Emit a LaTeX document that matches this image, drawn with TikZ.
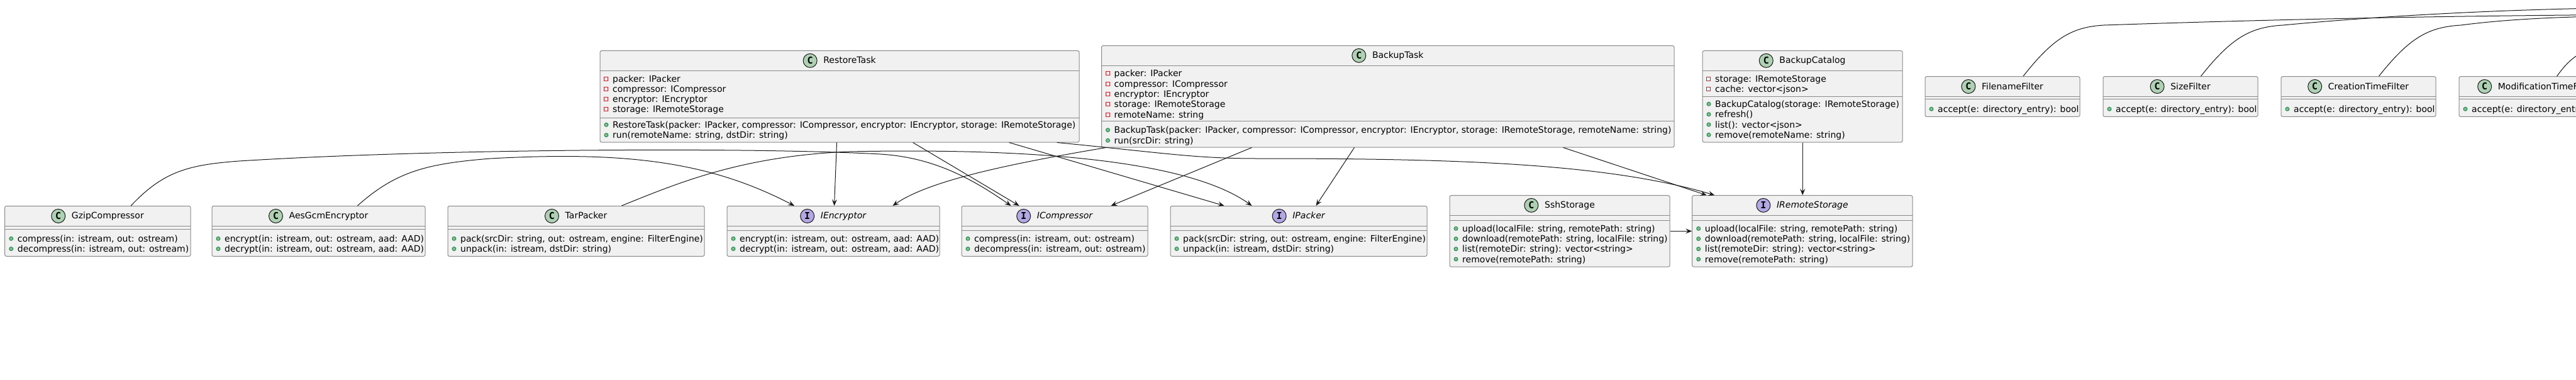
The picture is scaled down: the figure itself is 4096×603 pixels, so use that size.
\documentclass[tikz,border=0pt]{standalone}
\usepackage{fontspec}
\setmainfont{DejaVu Sans}
\newfontfamily\iconfont{DejaVu Sans Mono}
\usetikzlibrary{arrows.meta,calc,fit}
\definecolor{boxfill}{HTML}{F1F1F1}
\definecolor{boxdraw}{HTML}{8A8A8A}
\definecolor{linecol}{HTML}{181818}
\definecolor{privcol}{HTML}{C82930}
\definecolor{pubfill}{HTML}{84BE84}
\definecolor{pubdraw}{HTML}{038048}
\definecolor{clsfill}{HTML}{ADD1B2}
\definecolor{ifcfill}{HTML}{B4A7E5}
\tikzset{
  umlbox/.style={draw=boxdraw, fill=boxfill, line width=1pt, rounded corners=2.5pt, inner sep=0pt},
  divider/.style={draw=boxdraw, line width=1pt},
  rowtext/.style={anchor=base west, inner sep=0pt, font=\fontsize{14}{16}\selectfont, text=black},
  titletext/.style={anchor=base, inner sep=0pt, font=\fontsize{14}{16}\selectfont, text=black},
  ifctitle/.style={anchor=base, inner sep=0pt, font=\fontsize{14}{16}\selectfont\itshape, text=black},
  clsicon/.style={circle, draw=linecol, fill=clsfill, line width=1pt, minimum size=22pt, inner sep=0pt, font=\iconfont\bfseries\fontsize{15}{15}\selectfont},
  ifcicon/.style={clsicon, fill=ifcfill},
  privicon/.style={draw=privcol, line width=1pt},
  pubicon/.style={fill=pubfill, draw=pubdraw, line width=0.8pt},
  conn/.style={draw=linecol, line width=1pt, -{Stealth[length=10pt,width=8pt,inset=4pt]}},
}
\newcommand\umlframe[5]{\node[umlbox, fit={(#2,#3) (#4,#5)}] (#1) {};}
\newcommand\clshead[6]{%
  \node[titletext] (#1-t) at ({(#2+#3)/2+16},{(#4+#5)/2+4.5}) {#6};
  \node[clsicon] (#1-i) at ($(#1-t.base west)+(-21,-4.5)$) {C};
  \draw[divider] (#2,#5) -- (#3,#5);}
\newcommand\ifchead[6]{%
  \node[ifctitle] (#1-t) at ({(#2+#3)/2+16},{(#4+#5)/2+4.5}) {#6};
  \node[ifcicon] (#1-i) at ($(#1-t.base west)+(-21,-4.5)$) {I};
  \draw[divider] (#2,#5) -- (#3,#5);}
\newcommand\sep[3]{\draw[divider] (#1,#3) -- (#2,#3);}
\newcommand\priv[3]{\draw[privicon] ({#1+6.5},{#2-3}) rectangle ({#1+12.5},{#2+3}); \node[rowtext] at ({#1+20},{#2+5}) {#3};}
\newcommand\pub[3]{\filldraw[pubicon] ({#1+10},{#2}) circle (3pt); \node[rowtext] at ({#1+20},{#2+5}) {#3};}

\begin{document}
\begin{tikzpicture}[x=1pt,y=-1pt]
\useasboundingbox (0,0) rectangle (4096,603);
\fill[white] (0,0) rectangle (4096,603);
\clip (0,0) rectangle (4096,603);

% ---------- RestoreTask
\umlframe{restore}{954}{80.7}{1716}{226}
\clshead{restore}{954}{1716}{80.7}{112}{RestoreTask}
\priv{954}{125.3}{packer: IPacker}
\priv{954}{141.5}{compressor: ICompressor}
\priv{954}{157.7}{encryptor: IEncryptor}
\priv{954}{173.9}{storage: IRemoteStorage}
\sep{954}{1716}{187}
\pub{954}{198.3}{RestoreTask(packer: IPacker, compressor: ICompressor, encryptor: IEncryptor, storage: IRemoteStorage)}
\pub{954}{214.7}{run(remoteName: string, dstDir: string)}

% ---------- BackupTask
\umlframe{backup}{1751.5}{72.7}{2662}{234}
\clshead{backup}{1751.5}{2662}{72.7}{104}{BackupTask}
\priv{1751.5}{116.7}{packer: IPacker}
\priv{1751.5}{133}{compressor: ICompressor}
\priv{1751.5}{149.3}{encryptor: IEncryptor}
\priv{1751.5}{165.7}{storage: IRemoteStorage}
\priv{1751.5}{182}{remoteName: string}
\sep{1751.5}{2662}{192.7}
\pub{1751.5}{206.7}{BackupTask(packer: IPacker, compressor: ICompressor, encryptor: IEncryptor, storage: IRemoteStorage, remoteName: string)}
\pub{1751.5}{223.3}{run(srcDir: string)}

% ---------- BackupCatalog
\umlframe{catalog}{2707}{80.7}{3025}{226}
\clshead{catalog}{2707}{3025}{80.7}{112}{BackupCatalog}
\priv{2707}{125}{storage: IRemoteStorage}
\priv{2707}{141.3}{cache: vector<json>}
\sep{2707}{3025}{153}
\pub{2707}{165.3}{BackupCatalog(storage: IRemoteStorage)}
\pub{2707}{181.7}{refresh()}
\pub{2707}{198}{list(): vector<json>}
\pub{2707}{214.3}{remove(remoteName: string)}

% ---------- Filters
\umlframe{filename}{3061}{121.7}{3307}{185.3}
\clshead{filename}{3061}{3307}{121.7}{153.3}{FilenameFilter}
\sep{3061}{3307}{157}
\pub{3061}{173.3}{accept(e: directory\_entry): bool}

\umlframe{size}{3344}{121.7}{3590}{185.3}
\clshead{size}{3344}{3590}{121.7}{153.3}{SizeFilter}
\sep{3344}{3590}{157}
\pub{3344}{173.3}{accept(e: directory\_entry): bool}

\umlframe{creation}{3627}{121.7}{3873}{185.3}
\clshead{creation}{3627}{3873}{121.7}{153.3}{CreationTimeFilter}
\sep{3627}{3873}{157}
\pub{3627}{173.3}{accept(e: directory\_entry): bool}

\umlframe{modif}{3910}{121.7}{4156}{185.3}
\clshead{modif}{3910}{4156}{121.7}{153.3}{ModificationTimeFilter}
\sep{3910}{4156}{157}
\pub{3910}{173.3}{accept(e: directory\_entry): bool}

% ---------- bottom row
\umlframe{gzip}{7.7}{327.5}{303}{407.3}
\clshead{gzip}{7.7}{303}{327.5}{359.3}{GzipCompressor}
\sep{7.7}{303}{364}
\pub{7.7}{379.3}{compress(in: istream, out: ostream)}
\pub{7.7}{395.5}{decompress(in: istream, out: ostream)}

\umlframe{aes}{337}{327.5}{676}{407.3}
\clshead{aes}{337}{676}{327.5}{359.3}{AesGcmEncryptor}
\sep{337}{676}{364}
\pub{337}{379.3}{encrypt(in: istream, out: ostream, aad: AAD)}
\pub{337}{395.5}{decrypt(in: istream, out: ostream, aad: AAD)}

\umlframe{tar}{712}{327.5}{1120}{407.3}
\clshead{tar}{712}{1120}{327.5}{359.3}{TarPacker}
\sep{712}{1120}{364}
\pub{712}{379.3}{pack(srcDir: string, out: ostream, engine: FilterEngine)}
\pub{712}{395.5}{unpack(in: istream, dstDir: string)}

\umlframe{ienc}{1156}{327.5}{1494}{407.3}
\ifchead{ienc}{1156}{1494}{327.5}{359.3}{IEncryptor}
\sep{1156}{1494}{366}
\pub{1156}{379.3}{encrypt(in: istream, out: ostream, aad: AAD)}
\pub{1156}{395.5}{decrypt(in: istream, out: ostream, aad: AAD)}

\umlframe{icomp}{1529}{327.5}{1825}{407.3}
\ifchead{icomp}{1529}{1825}{327.5}{359.3}{ICompressor}
\sep{1529}{1825}{366}
\pub{1529}{379.3}{compress(in: istream, out: ostream)}
\pub{1529}{395.5}{decompress(in: istream, out: ostream)}

\umlframe{ipack}{1861}{327.5}{2269}{407.3}
\ifchead{ipack}{1861}{2269}{327.5}{359.3}{IPacker}
\sep{1861}{2269}{366}
\pub{1861}{379.3}{pack(srcDir: string, out: ostream, engine: FilterEngine)}
\pub{1861}{395.5}{unpack(in: istream, dstDir: string)}

\umlframe{ssh}{2305}{310.7}{2655}{424}
\clshead{ssh}{2305}{2655}{310.7}{342}{SshStorage}
\sep{2305}{2655}{350}
\pub{2305}{363.3}{upload(localFile: string, remotePath: string)}
\pub{2305}{379.5}{download(remotePath: string, localFile: string)}
\pub{2305}{395.7}{list(remoteDir: string): vector<string>}
\pub{2305}{412}{remove(remotePath: string)}

\umlframe{iremote}{2690.7}{310.7}{3041}{424}
\ifchead{iremote}{2690.7}{3041}{310.7}{342}{IRemoteStorage}
\sep{2690.7}{3041}{350}
\pub{2690.7}{363.3}{upload(localFile: string, remotePath: string)}
\pub{2690.7}{379.5}{download(remotePath: string, localFile: string)}
\pub{2690.7}{395.7}{list(remoteDir: string): vector<string>}
\pub{2690.7}{412}{remove(remotePath: string)}

% ---------- connectors
\draw[conn] ([xshift=377pt]restore.south west) -- ([xshift=171pt]ienc.north west);
\draw[conn] ([xshift=498pt]restore.south west) -- ([xshift=92pt]icomp.north west);
\draw[conn] ([xshift=651pt]restore.south west) -- ([xshift=86pt]ipack.north west);
\draw[conn] ([xshift=727pt]restore.south west) .. controls (1850,243) and (1900,252) .. (2000,252)
   .. controls (2300,252) and (2550,258) .. ([xshift=36pt]iremote.north west);

\draw[conn] ([xshift=8pt]backup.south west) .. controls (1620,258) and (1480,285) .. ([xshift=264pt]ienc.north west);
\draw[conn] ([xshift=239.5pt]backup.south west) -- ([xshift=238pt]icomp.north west);
\draw[conn] ([xshift=402.5pt]backup.south west) -- ([xshift=232pt]ipack.north west);
\draw[conn] ([xshift=734.5pt]backup.south west) -- ([xshift=23.3pt]iremote.north west);

\draw[conn] ([xshift=159.7pt]catalog.south west) -- ([xshift=176pt]iremote.north west);
\draw[conn] (ssh.east) -- (iremote.west);

\draw[conn] ([xshift=201pt]gzip.north west) .. controls (260,272) and (300,262) .. (380,256)
   .. controls (700,236) and (1200,234) .. (1400,245)
   .. controls (1480,250) and (1540,280) .. ([xshift=79pt]icomp.north west);
\draw[conn] ([xshift=232pt]aes.north west) .. controls (630,272) and (680,260) .. (780,252)
   .. controls (1000,240) and (1130,258) .. ([xshift=107.5pt]ienc.north west);
\draw[conn] ([xshift=277pt]tar.north west) .. controls (1080,290) and (1180,248) .. (1350,241)
   .. controls (1600,236) and (1880,248) .. ([xshift=130pt]ipack.north west);

% ---------- filter connectors to a target outside the frame
\coordinate (offA) at (4200,23);
\coordinate (offB) at (4200,12);
\coordinate (offC) at (4200,25);
\coordinate (offD) at (4200,50);
\draw[conn] ([xshift=156.5pt]filename.north west) .. controls (3265,60) and (3295,43) .. (3345,40)
   .. controls (3700,28) and (3950,25) .. (offA);
\draw[conn] ([xshift=156pt]size.north west) .. controls (3548,60) and (3578,43) .. (3630,40)
   .. controls (3800,24) and (4000,14) .. (offB);
\draw[conn] ([xshift=156pt]creation.north west) .. controls (3831,60) and (3861,43) .. (3913,40)
   .. controls (3990,30) and (4080,26) .. (offC);
\draw[conn] ([xshift=156pt]modif.north west) .. controls (4085,95) and (4100,75) .. (offD);
\end{tikzpicture}
\end{document}
